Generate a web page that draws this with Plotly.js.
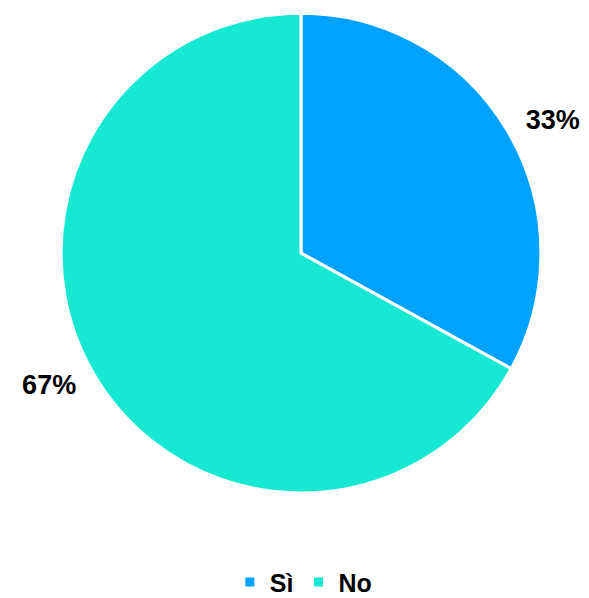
<!DOCTYPE html>
<html>
<head>
<meta charset="utf-8">
<script src="https://cdn.plot.ly/plotly-3.0.1.min.js"></script>
<style>html,body{margin:0;padding:0;background:#fff;}#chart{width:589px;height:598px;}</style>
</head>
<body>
<div id="chart"></div>
<script>
const labels = ["Sì", "No"];
const values = [33, 67];
const colors = ["#00A2FF", "#17E8D1"];

const FONT = "Liberation Sans, Arial, sans-serif";

const data = [{
  type: "pie",
  labels: labels,
  values: values,
  sort: false,
  direction: "clockwise",
  rotation: 0,
  marker: {colors: colors, line: {color: "#ffffff", width: 3}},
  textinfo: "none",
  hoverinfo: "none",
  domain: {x: [0.1036, 0.9185], y: [0.1756, 0.978]}
}, {
  // transparent copy that carries the outside percentage labels a bit further out
  type: "pie",
  labels: labels,
  values: values,
  sort: false,
  direction: "clockwise",
  rotation: 0,
  showlegend: false,
  marker: {colors: ["rgba(0,0,0,0)", "rgba(0,0,0,0)"], line: {width: 0}},
  textinfo: "percent",
  texttemplate: "%{percent:.0%}",
  textposition: "outside",
  outsidetextfont: {family: FONT, size: 27, color: "#000", weight: "bold"},
  hoverinfo: "none",
  domain: {x: [0.0823, 0.9397], y: [0.1556, 1.0]}
}];

const layout = {
  width: 589, height: 598,
  margin: {l: 0, r: 0, t: 0, b: 0, autoexpand: false},
  paper_bgcolor: "#fff",
  showlegend: true,
  legend: {
    orientation: "h", x: 0.515, xanchor: "center", y: -0.012, yanchor: "bottom",
    font: {family: FONT, size: 25, color: "#000", weight: "bold"},
    itemwidth: 30
  },
  font: {family: FONT, weight: "bold"}
};

Plotly.newPlot("chart", data, layout, {displayModeBar: false, staticPlot: true});
</script>
</body>
</html>
